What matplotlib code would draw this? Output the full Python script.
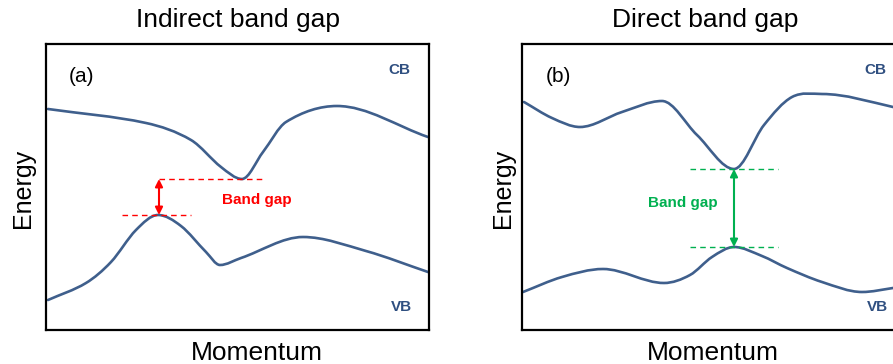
import matplotlib
matplotlib.use("Agg")
import matplotlib.pyplot as plt
import numpy as np
from matplotlib.path import Path
from matplotlib.patches import PathPatch

plt.rcParams['font.family'] = ['Liberation Sans', 'DejaVu Sans']

W, H = 893, 364
BAND_COLOR = '#3f5f8c'

# panel (a): indirect gap -- momentum / energy in box units (383 x 286)
a_cb_k = [2, 100, 145, 175, 196, 217, 240, 291, 382]
a_cb_e = [221, 207, 190, 163, 151, 178, 208, 224, 193]
a_vb_k = [2, 40, 65, 90, 112, 135, 160, 174, 195, 257, 320, 382]
a_vb_e = [30, 47, 68, 100, 115, 104, 78, 65, 72, 93, 79, 58]
a_cb_min = (196, 151)
a_vb_max = (112, 115)

# panel (b): direct gap
b_cb_k = [2, 30, 58, 100, 140, 175, 212, 242, 270, 300, 371, 395]
b_cb_e = [228, 212, 203, 218, 229, 195, 161, 205, 233, 236, 223, 215]
b_vb_k = [1, 40, 81, 142, 168, 190, 212, 240, 265, 300, 340, 371, 395]
b_vb_e = [38, 53, 61, 47, 55, 73, 83, 74, 62, 48, 38, 42, 46]
b_gap_k = 212
b_cb_min = 161
b_vb_max = 83


def px(x, y):
    return x / W, 1 - y / H


def smooth_path(xs, ys):
    # cubic Hermite segments in k; flat tangent at the turning points
    x = np.asarray(xs, float)
    y = np.asarray(ys, float)
    n = len(x)
    m = np.empty(n)
    m[0] = (y[1] - y[0]) / (x[1] - x[0])
    m[-1] = (y[-1] - y[-2]) / (x[-1] - x[-2])
    for i in range(1, n - 1):
        d0 = y[i] - y[i - 1]
        d1 = y[i + 1] - y[i]
        if d0 * d1 <= 0:
            m[i] = 0.0
        else:
            m[i] = (y[i + 1] - y[i - 1]) / (x[i + 1] - x[i - 1])
    verts = [(x[0], y[0])]
    codes = [Path.MOVETO]
    for i in range(n - 1):
        h = (x[i + 1] - x[i]) / 3
        verts += [(x[i] + h, y[i] + m[i] * h),
                  (x[i + 1] - h, y[i + 1] - m[i + 1] * h),
                  (x[i + 1], y[i + 1])]
        codes += [Path.CURVE4] * 3
    return Path(verts, codes)


def band(ax, xs, ys):
    ax.add_patch(PathPatch(smooth_path(xs, ys), facecolor='none',
                           edgecolor=BAND_COLOR, lw=1.9, capstyle='round'))


def setup(ax, tag):
    ax.set_xlim(0, 383)
    ax.set_ylim(0, 286)
    ax.set_xticks([])
    ax.set_yticks([])
    for s in ax.spines.values():
        s.set_linewidth(1.6)
    ax.text(353, 260, 'CB', color='#2f4f80', fontsize=11, fontweight='bold',
            ha='center', va='center')
    ax.text(355, 23, 'VB', color='#2f4f80', fontsize=11, fontweight='bold',
            ha='center', va='center')
    ax.text(36, 254, tag, fontsize=15, ha='center', va='center')


def gap_arrow(ax, k, e0, e1, color):
    ax.annotate('', xy=(k, e1), xytext=(k, e0),
                arrowprops=dict(arrowstyle='<|-|>', color=color, lw=1.5,
                                mutation_scale=11, shrinkA=0, shrinkB=0))


fig = plt.figure(figsize=(W / 100, H / 100), dpi=100)
ax_a = fig.add_axes([46 / W, 34 / H, 383 / W, 286 / H])
ax_b = fig.add_axes([522 / W, 34 / H, 383 / W, 286 / H])

# (a) indirect
setup(ax_a, '(a)')
band(ax_a, a_cb_k, a_cb_e)
band(ax_a, a_vb_k, a_vb_e)
red = '#ff0000'
ax_a.plot([a_vb_max[0] + 1, a_cb_min[0] + 23], [a_cb_min[1]] * 2,
          ls=(0, (4, 3)), color=red, lw=1.0)
ax_a.plot([a_vb_max[0] - 36, a_vb_max[0] + 33], [a_vb_max[1]] * 2,
          ls=(0, (4, 3)), color=red, lw=1.0)
gap_arrow(ax_a, a_vb_max[0] + 1, a_vb_max[1], a_cb_min[1], red)
ax_a.text(211, 130, 'Band gap', color=red, fontsize=11, fontweight='bold',
          ha='center', va='center')

# (b) direct
setup(ax_b, '(b)')
band(ax_b, b_cb_k, b_cb_e)
band(ax_b, b_vb_k, b_vb_e)
green = '#00b050'
for e in (b_cb_min, b_vb_max):
    ax_b.plot([b_gap_k - 44, b_gap_k + 44], [e, e], ls=(0, (4, 3)),
              color=green, lw=1.0)
gap_arrow(ax_b, b_gap_k, b_vb_max, b_cb_min, green)
ax_b.text(161, 127, 'Band gap', color=green, fontsize=11, fontweight='bold',
          ha='center', va='center')

# titles and axis names
fig.text(*px(238, 27), 'Indirect band gap', fontsize=19, ha='center', va='baseline')
fig.text(*px(705, 27), 'Direct band gap', fontsize=19, ha='center', va='baseline')
fig.text(*px(257, 360), 'Momentum', fontsize=19, ha='center', va='baseline')
fig.text(*px(713, 360), 'Momentum', fontsize=19, ha='center', va='baseline')
fig.text(*px(23, 188), 'Energy', fontsize=18, rotation=90, ha='center', va='center')
fig.text(*px(503, 188), 'Energy', fontsize=18, rotation=90, ha='center', va='center')

fig.savefig('out.png', dpi=100)
